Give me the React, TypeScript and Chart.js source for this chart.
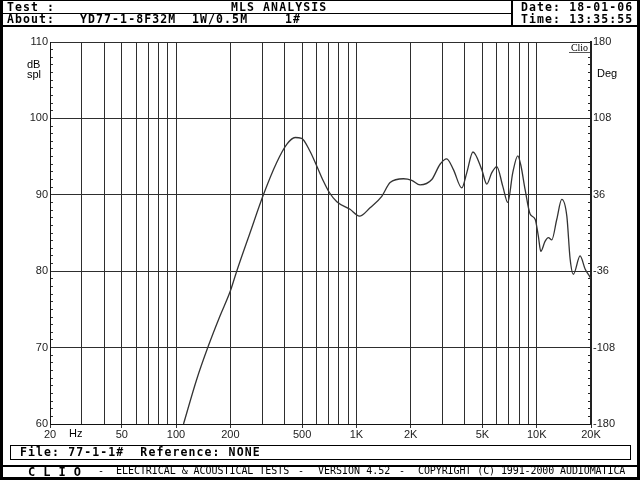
import React, { useEffect, useRef } from "react";
import { Chart, registerables } from "chart.js";

Chart.register(...registerables);

// ---- data ----
const FREQ_HZ = [
  110, 130, 151, 175, 200, 217, 257, 305, 361, 411,
  457, 497, 553, 602, 656, 708, 779, 922, 1040, 1191,
  1383, 1538, 1823, 2028, 2255, 2619, 2911, 3170, 3452, 3841,
  4096, 4430, 4956, 5285, 5637, 6005, 6486, 6910, 7367, 7853,
  8161, 8620, 9190, 9800, 10210, 10535, 11120, 11610, 12120, 12920,
  13770, 14690, 15320, 15970, 17400, 18550, 19790, 20000,
];
const SPL_DB = [
  60, 65.8, 70.2, 74.1, 77.4, 80.0, 85.0, 90.0, 94.2, 96.6,
  97.5, 97.4, 95.7, 93.8, 91.8, 90.3, 89.1, 88.1, 87.2, 88.3,
  89.8, 91.6, 92.1, 91.9, 91.3, 92.0, 94.0, 94.7, 93.3, 90.9,
  92.9, 95.6, 93.3, 91.4, 92.9, 93.7, 91.1, 89.0, 92.9, 95.1,
  93.9, 90.7, 87.5, 86.8, 84.6, 82.6, 83.9, 84.4, 84.1, 86.8,
  89.4, 87.2, 81.6, 79.6, 82.0, 80.3, 79.2, 79.0,
];

const X_GRID_HZ = [
  20, 30, 40, 50, 60, 70, 80, 90,
  100, 200, 300, 400, 500, 600, 700, 800, 900,
  1000, 2000, 3000, 4000, 5000, 6000, 7000, 8000, 9000,
  10000, 20000,
];
const X_LABEL_HZ = [20, 50, 100, 200, 500, 1000, 2000, 5000, 10000, 20000];
const X_LABEL_TEXT = ["20", "50", "100", "200", "500", "1K", "2K", "5K", "10K", "20K"];

const Y_MAJOR_DB = [60, 70, 80, 90, 100, 110];
const Y_MINOR_STEP_DB = 1;
const Y2_MAJOR_DEG = [-180, -108, -36, 36, 108, 180];
const Y2_MINOR_STEP_DEG = 7.2;

const HEADER = {
  test: "Test :",
  title: "MLS ANALYSIS",
  about: "About:",
  model: "YD77-1-8F32M",
  power: "1W/0.5M",
  num: "1#",
  date: "Date: 18-01-06",
  time: "Time: 13:35:55",
};
const FOOTER = {
  file: "File: 77-1-1#  Reference: NONE",
  clio: "C L I O",
  parts: ["-", "ELECTRICAL & ACOUSTICAL TESTS", "-", "VERSION 4.52", "-", "COPYRIGHT (C) 1991-2000 AUDIOMATICA"],
};

const GRID = "#2e2e2e";
const AXIS = "#111";
const LABEL = "#222";
const TICK_FONT = { family: '"Liberation Sans", Arial, sans-serif', size: 11 };

const range = (a: number, b: number, step: number) => {
  const out: number[] = [];
  const n = Math.round((b - a) / step);
  for (let i = 0; i <= n; i++) out.push(+(a + i * step).toFixed(4));
  return out;
};

const near = (v: number, arr: number[]) => arr.findIndex((a) => Math.abs(a - v) < 1e-6);

function ChartCanvas() {
  const ref = useRef<HTMLCanvasElement | null>(null);
  useEffect(() => {
    if (!ref.current) return;
    const points = FREQ_HZ.map((f, i) => ({ x: f, y: SPL_DB[i] }));
    const yTicks = range(Y_MAJOR_DB[0], Y_MAJOR_DB[Y_MAJOR_DB.length - 1], Y_MINOR_STEP_DB);
    const y2Ticks = range(Y2_MAJOR_DEG[0], Y2_MAJOR_DEG[Y2_MAJOR_DEG.length - 1], Y2_MINOR_STEP_DEG);
    const chart = new Chart(ref.current, {
      type: "line",
      data: {
        datasets: [
          {
            data: points,
            borderColor: "#333",
            borderWidth: 1.3,
            pointRadius: 0,
            fill: false,
            cubicInterpolationMode: "monotone",
            xAxisID: "x",
            yAxisID: "y",
          },
        ],
      },
      options: {
        animation: false,
        responsive: false,
        devicePixelRatio: 1,
        layout: { padding: { left: 0, right: 0, top: 42, bottom: 0 } },
        plugins: { legend: { display: false }, tooltip: { enabled: false } },
        scales: {
          x: {
            type: "logarithmic",
            position: "bottom",
            min: 20,
            max: 20000,
            afterBuildTicks: (s: any) => {
              s.ticks = X_GRID_HZ.map((v) => ({ value: v }));
            },
            afterFit: (s: any) => {
              s.height = 56;
            },
            grid: {
              color: GRID,
              lineWidth: 1,
              drawTicks: true,
              tickLength: 4,
              tickColor: (ctx: any) =>
                ctx.tick && near(ctx.tick.value, X_LABEL_HZ) >= 0 ? "#333" : "rgba(0,0,0,0)",
            },
            border: { display: true, color: AXIS, width: 1 },
            ticks: {
              autoSkip: false,
              maxRotation: 0,
              minRotation: 0,
              padding: 0,
              color: LABEL,
              font: TICK_FONT,
              callback: (v: any) => {
                const i = near(Number(v), X_LABEL_HZ);
                return i >= 0 ? X_LABEL_TEXT[i] : "";
              },
            },
          },
          y: {
            type: "linear",
            position: "left",
            min: 60,
            max: 110,
            afterBuildTicks: (s: any) => {
              s.ticks = yTicks.map((v) => ({ value: v }));
            },
            afterFit: (s: any) => {
              s.width = 50;
            },
            grid: {
              color: (ctx: any) =>
                ctx.tick && near(ctx.tick.value, Y_MAJOR_DB) >= 0 ? GRID : "rgba(0,0,0,0)",
              lineWidth: 1,
              drawTicks: true,
              tickLength: -3,
              tickColor: "#333",
            },
            border: { display: true, color: AXIS, width: 1 },
            ticks: {
              autoSkip: false,
              padding: 5,
              color: LABEL,
              font: TICK_FONT,
              callback: (v: any) => (near(Number(v), Y_MAJOR_DB) >= 0 ? String(v) : ""),
            },
          },
          y2: {
            type: "linear",
            position: "right",
            min: -180,
            max: 180,
            afterBuildTicks: (s: any) => {
              s.ticks = y2Ticks.map((v) => ({ value: v }));
            },
            afterFit: (s: any) => {
              s.width = 49;
            },
            grid: {
              drawOnChartArea: false,
              drawTicks: true,
              tickLength: -3,
              tickColor: "#222",
            },
            border: { display: true, color: "#222", width: 2 },
            ticks: {
              autoSkip: false,
              padding: 5,
              color: LABEL,
              font: TICK_FONT,
              callback: (v: any) => (near(Number(v), Y2_MAJOR_DEG) >= 0 ? String(Math.round(Number(v))) : ""),
            },
          },
        },
      },
    } as any);
    return () => chart.destroy();
  }, []);
  return (
    <canvas
      ref={ref}
      width={640}
      height={480}
      style={{ position: "absolute", left: 0, top: 0, width: 640, height: 480 }}
    />
  );
}

const mono = '"DejaVu Sans Mono", "Liberation Mono", monospace';
const sans = '"Liberation Sans", Arial, sans-serif';

const Txt = (p: { x: number; y: number; size?: number; bold?: boolean; family?: string; ls?: number; children: React.ReactNode }) => (
  <div
    style={{
      position: "absolute",
      left: p.x,
      top: p.y,
      fontFamily: p.family || mono,
      fontSize: p.size || 11,
      lineHeight: `${p.size || 11}px`,
      fontWeight: p.bold ? 700 : 400,
      letterSpacing: p.ls !== undefined ? p.ls : 0,
      whiteSpace: "pre",
      color: "#000",
    }}
  >
    {p.children}
  </div>
);

const Rect = (p: { x: number; y: number; w: number; h: number; bg?: string; border?: string }) => (
  <div
    style={{
      position: "absolute",
      left: p.x,
      top: p.y,
      width: p.w,
      height: p.h,
      background: p.bg || "transparent",
      border: p.border || "none",
      boxSizing: "border-box",
    }}
  />
);

export default function App() {
  const H = { size: 11.5, bold: true, ls: 1.1 };
  return (
    <div style={{ position: "fixed", left: 0, top: 0, width: 640, height: 480, background: "#fff", overflow: "hidden" }}>
      <ChartCanvas />
      {/* outer frame */}
      <Rect x={0} y={0} w={3} h={480} bg="#000" />
      <Rect x={637} y={0} w={3} h={480} bg="#000" />
      <Rect x={0} y={0} w={640} h={1} bg="#000" />
      <Rect x={0} y={477} w={640} h={3} bg="#000" />
      {/* header lines */}
      <Rect x={3} y={13} w={508} h={1} bg="#000" />
      <Rect x={3} y={25} w={634} h={1.5} bg="#000" />
      <Rect x={511} y={0} w={1.5} h={26} bg="#000" />
      {/* header text */}
      <Txt x={7} y={1.5} {...H}>{HEADER.test}</Txt>
      <Txt x={231} y={1.5} {...H}>{HEADER.title}</Txt>
      <Txt x={7} y={13.8} {...H}>{HEADER.about}</Txt>
      <Txt x={80} y={13.8} {...H}>{HEADER.model}</Txt>
      <Txt x={192} y={13.8} {...H}>{HEADER.power}</Txt>
      <Txt x={285} y={13.8} {...H}>{HEADER.num}</Txt>
      <Txt x={521} y={1.5} {...H}>{HEADER.date}</Txt>
      <Txt x={521} y={13.5} {...H}>{HEADER.time}</Txt>
      {/* axis side labels */}
      <Txt x={27} y={59} family={sans} size={11}>dB</Txt>
      <Txt x={27} y={69} family={sans} size={11}>spl</Txt>
      <Txt x={597} y={68} family={sans} size={11}>Deg</Txt>
      <Txt x={69} y={428} family={sans} size={11}>Hz</Txt>
      {/* Clio tag */}
      <div
        style={{
          position: "absolute",
          left: 569,
          top: 43,
          width: 21,
          height: 9,
          background: "#fff",
          borderBottom: "1px solid #555",
          fontFamily: '"Liberation Serif", serif',
          fontSize: 10,
          lineHeight: "9px",
          textAlign: "center",
          color: "#000",
        }}
      >
        Clio
      </div>
      {/* footer */}
      <Rect x={10} y={445} w={621} h={15} border="1px solid #000" />
      <Txt x={20} y={446.7} {...H}>{FOOTER.file}</Txt>
      <Rect x={3} y={465} w={634} h={1.5} bg="#000" />
      <Txt x={28} y={465.5} size={12} bold ls={0.4}>{FOOTER.clio}</Txt>
      <Txt x={98} y={466.3} size={10}>{FOOTER.parts[0]}</Txt>
      <Txt x={116} y={466.3} size={10} ls={-0.05}>{FOOTER.parts[1]}</Txt>
      <Txt x={298} y={466.3} size={10}>{FOOTER.parts[2]}</Txt>
      <Txt x={318} y={466.3} size={10}>{FOOTER.parts[3]}</Txt>
      <Txt x={399} y={466.3} size={10}>{FOOTER.parts[4]}</Txt>
      <Txt x={418} y={466.3} size={10} ls={-0.1}>{FOOTER.parts[5]}</Txt>
    </div>
  );
}
